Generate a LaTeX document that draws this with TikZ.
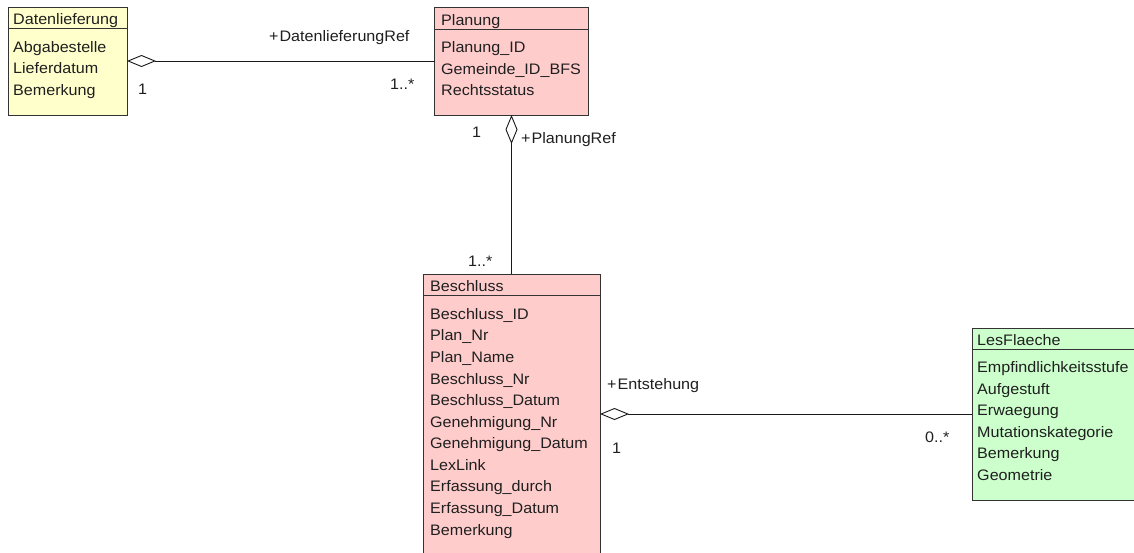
\documentclass[tikz,border=0pt]{standalone}
\usepackage{fontspec}
\setmainfont{Liberation Sans}[FakeStretch=1.06]
\usetikzlibrary{arrows.meta}
\definecolor{yel}{HTML}{FFFFCC}
\definecolor{pnk}{HTML}{FFCCCC}
\definecolor{grn}{HTML}{CCFFCC}
\definecolor{bord}{HTML}{333333}
\begin{document}
\begin{tikzpicture}[x=1pt,y=-1pt,
  cls/.style={draw=bord, line width=0.9pt, rectangle, inner sep=0pt, outer sep=0pt, anchor=north west},
  hdr/.style={draw=bord, line width=0.9pt},
  txt/.style={anchor=base west, inner sep=0pt, font=\fontsize{15.2}{18}\selectfont, text=black!88},
  conn/.style={line width=0.9pt, black!90},
  agg/.style={conn, {Diamond[open, length=29pt, width=12pt, line width=0.9pt]}-}
]
\useasboundingbox (0,0) rectangle (1134,552);
\clip (0,0) rectangle (1134,552);
\fill[white] (0,0) rectangle (1134,552);

% classes
\node[cls, fill=yel, minimum width=119pt, minimum height=108pt] (dl) at (8,7) {};
\node[cls, fill=pnk, minimum width=154pt, minimum height=108pt] (plan) at (434.5,7) {};
\node[cls, fill=pnk, minimum width=177pt, minimum height=300pt] (besch) at (423,274) {};
\node[cls, fill=grn, minimum width=180pt, minimum height=172pt] (les) at (972,328) {};

\draw[hdr] ([yshift=-21.5pt]dl.north west) -- ([yshift=-21.5pt]dl.north east);
\draw[hdr] ([yshift=-22pt]plan.north west) -- ([yshift=-22pt]plan.north east);
\draw[hdr] ([yshift=-21.5pt]besch.north west) -- ([yshift=-21.5pt]besch.north east);
\draw[hdr] ([yshift=-21pt]les.north west) -- ([yshift=-21pt]les.north east);

% Datenlieferung
\node[txt] (dlh) at (13,24) {Datenlieferung};
\node[txt] (dla1) at (13,52) {Abgabestelle};
\node[txt] (dla2) at (13,73.5) {Lieferdatum};
\node[txt] (dla3) at (13,95) {Bemerkung};

% Planung
\node[txt] (plh) at (441,25) {Planung};
\node[txt] (pla1) at (441,52.5) {Planung\_ID};
\node[txt] (pla2) at (441,74) {Gemeinde\_ID\_BFS};
\node[txt] (pla3) at (441,95.5) {Rechtsstatus};

% Beschluss
\node[txt] (beh) at (430,291.5) {Beschluss};
\foreach \t [count=\i from 0] in {Beschluss\_ID,Plan\_Nr,Plan\_Name,Beschluss\_Nr,Beschluss\_Datum,Genehmigung\_Nr,Genehmigung\_Datum,LexLink,Erfassung\_durch,Erfassung\_Datum,Bemerkung}
  \node[txt] (bea\i) at (430,319.3+21.57*\i) {\t};

% LesFlaeche
\node[txt] (leh) at (977,345.5) {LesFlaeche};
\foreach \t [count=\i from 0] in {Empfindlichkeitsstufe,Aufgestuft,Erwaegung,Mutationskategorie,Bemerkung,Geometrie}
  \node[txt] (lea\i) at (977,372.7+21.5*\i) {\t};

% connectors
\draw[agg] (dl.east) -- (plan.west);
\draw[agg] (plan.south) -- (besch.north);
\draw[agg] (besch.east |- les.west) -- (les.west);

% labels
\node[txt] (l1) at (269,41.5) {+\hspace{1pt}DatenlieferungRef};
\node[txt] (l2) at (138,94) {1};
\node[txt] (l3) at (390,89) {1..*};
\node[txt] (l4) at (472,137) {1};
\node[txt] (l5) at (521,143) {+\hspace{1pt}PlanungRef};
\node[txt] (l6) at (468,266) {1..*};
\node[txt] (l7) at (607,389) {+\hspace{1pt}Entstehung};
\node[txt] (l8) at (612,453) {1};
\node[txt] (l9) at (925,442) {0..*};
\end{tikzpicture}
\end{document}
